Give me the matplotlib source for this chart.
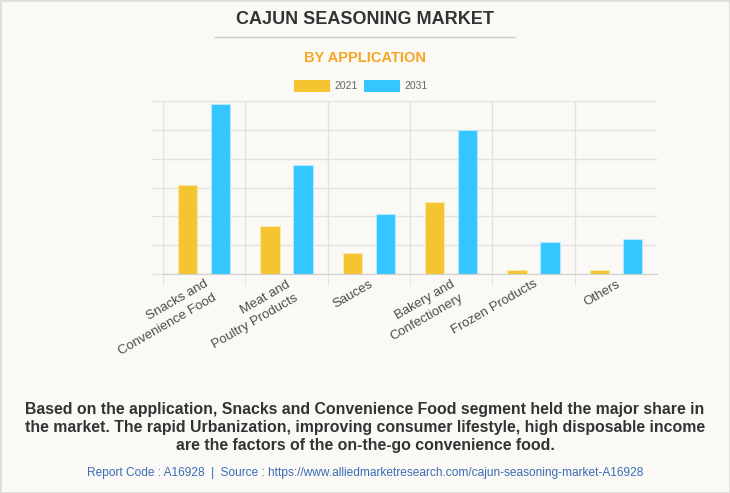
import matplotlib.pyplot as plt
from matplotlib.lines import Line2D
from matplotlib.patches import Rectangle
import matplotlib.transforms as mtransforms
import numpy as np

plt.rcParams['font.family'] = ['Liberation Sans', 'DejaVu Sans']

categories = ["Snacks and\nConvenience Food", "Meat and\nPoultry Products", "Sauces",
              "Bakery and\nConfectionery", "Frozen Products", "Others"]
years = ["2021", "2031"]
values_2021 = [3.09, 1.68, 0.74, 2.50, 0.15, 0.15]
values_2031 = [5.91, 3.77, 2.09, 5.01, 1.10, 1.21]

yellow = "#F4C531"
blue = "#33C6FF"
bg = "#FAF9F5"
grid_col = "#E3E2DE"

fig = plt.figure(figsize=(7.3, 4.93), dpi=100, facecolor=bg)
fig.patches.append(Rectangle((0, 0), 1, 1, transform=fig.transFigure, fill=False,
                             edgecolor="#DDDDDD", linewidth=2))

# plot area: x 163..657 px, y 101..274 px
ax = fig.add_axes([163 / 730, 1 - 274 / 493, 494 / 730, 173 / 493])
ax.set_facecolor(bg)

x = np.arange(len(categories))
ax.bar(x - 0.2, values_2021, 0.235, color=yellow, edgecolor="#FBE8A8", linewidth=0.8, zorder=3)
ax.bar(x + 0.2, values_2031, 0.235, color=blue, edgecolor="#B5E9FF", linewidth=0.8, zorder=3)

ax.set_xlim(-0.5, 5.5)
ax.set_ylim(0, 6)
ax.set_yticks(np.arange(0, 7, 1))
ax.set_yticklabels([])
ax.tick_params(axis='y', length=9, color=grid_col)
ax.set_xticks(x)
ax.set_xticks(np.arange(-0.5, 5, 1), minor=True)
ax.tick_params(axis='x', which='major', length=0, pad=3)
ax.tick_params(axis='x', which='minor', length=8, color=grid_col)
ax.grid(axis='y', color=grid_col, linewidth=1, zorder=0)
ax.grid(axis='x', which='minor', color=grid_col, linewidth=1, zorder=0)
for s in ['top', 'right', 'left']:
    ax.spines[s].set_visible(False)
ax.spines['bottom'].set_color("#CFCFCF")

ax.set_xticklabels(categories, rotation=30, ha='right', va='top', rotation_mode='anchor',
                   multialignment='right', fontsize=9.5, color="#4D4D4D", linespacing=1.45)

# titles
fig.text(0.5, 1 - 20 / 493, "CAJUN SEASONING MARKET", ha='center', va='center',
         fontsize=13, fontweight='bold', color="#333333")
fig.add_artist(Line2D([215 / 730, 515 / 730], [1 - 37 / 493, 1 - 37 / 493],
                      color="#CCCCCC", linewidth=1))
fig.text(0.5, 1 - 58 / 493, "BY APPLICATION", ha='center', va='center',
         fontsize=10.5, fontweight='bold', color="#F5A623")

# legend
for i, (lab, col) in enumerate(zip(years, [yellow, blue])):
    x0 = (294 + i * 70) / 730
    fig.patches.append(Rectangle((x0, 1 - 92 / 493), 36 / 730, 12 / 493,
                                 transform=fig.transFigure, facecolor=col, edgecolor='none'))
    fig.text(x0 + 40 / 730, 1 - 86 / 493, lab, ha='left', va='center',
             fontsize=7.5, color="#666666")

note = ("Based on the application, Snacks and Convenience Food segment held the major share in\n"
        "the market. The rapid Urbanization, improving consumer lifestyle, high disposable income\n"
        "are the factors of the on-the-go convenience food.")
fig.text(0.5, 1 - 427.5 / 493, note, ha='center', va='center', fontsize=11.4,
         fontweight='bold', color="#333333", linespacing=1.28)
fig.text(0.5, 1 - 473 / 493,
         "Report Code : A16928  |  Source : https://www.alliedmarketresearch.com/cajun-seasoning-market-A16928",
         ha='center', va='center', fontsize=8.6, color="#3A6DB5")

fig.savefig("out.png", dpi=100, facecolor=bg)
